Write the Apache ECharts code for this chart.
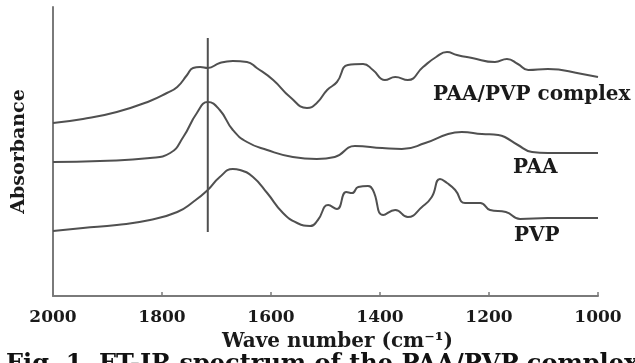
<!DOCTYPE html>
<html>
<head>
<meta charset="utf-8">
<script src="https://cdn.jsdelivr.net/npm/echarts@6/dist/echarts.min.js"></script>
<style>
  html, body { margin: 0; padding: 0; background: #fff; }
  #chart { width: 635px; height: 363px; }
</style>
</head>
<body>
<div id="chart"></div>
<script>
// wave number ticks (cm-1), axis runs 2000 -> 1000
var waveTicks = [2000, 1800, 1600, 1400, 1200, 1000];

// spectra, [wave number, absorbance (arbitrary, offset)]
var complexSpectrum = [
	[2000, 1.73], [1945, 1.77], [1883, 1.84], [1822, 1.95], [1791, 2.03], [1772, 2.09],
	[1754, 2.21], [1743, 2.28], [1730, 2.29], [1716, 2.28], [1694, 2.33], [1670, 2.35],
	[1644, 2.34], [1626, 2.28], [1596, 2.16], [1565, 1.99], [1534, 1.88], [1516, 1.93],
	[1497, 2.06], [1479, 2.14], [1459, 2.31], [1431, 2.32], [1413, 2.26], [1391, 2.16],
	[1372, 2.19], [1349, 2.16], [1321, 2.29], [1297, 2.39], [1277, 2.44], [1259, 2.41],
	[1231, 2.38], [1189, 2.34], [1167, 2.37], [1147, 2.32], [1128, 2.26], [1092, 2.27],
	[1029, 2.22], [1000, 2.19]
];

var paaSpectrum = [
	[2000, 1.34], [1914, 1.35], [1822, 1.38], [1785, 1.43], [1761, 1.59], [1736, 1.83],
	[1716, 1.94], [1694, 1.86], [1670, 1.66], [1644, 1.54], [1607, 1.46], [1560, 1.39],
	[1516, 1.37], [1483, 1.39], [1446, 1.50], [1396, 1.48], [1360, 1.47], [1317, 1.53],
	[1275, 1.62], [1250, 1.64], [1213, 1.62], [1183, 1.61], [1171, 1.59], [1147, 1.51],
	[1121, 1.44], [1092, 1.43], [1000, 1.43]
];

var pvpSpectrum = [
	[2000, 0.65], [1945, 0.68], [1883, 0.71], [1822, 0.76], [1772, 0.84], [1743, 0.94],
	[1716, 1.06], [1694, 1.19], [1670, 1.27], [1657, 1.26], [1633, 1.19], [1607, 1.03],
	[1578, 0.83], [1552, 0.73], [1528, 0.70], [1514, 0.76], [1495, 0.91], [1479, 0.87],
	[1462, 1.04], [1451, 1.03], [1440, 1.09], [1422, 1.10], [1413, 1.06], [1394, 0.81],
	[1372, 0.86], [1349, 0.79], [1323, 0.89], [1305, 0.99], [1290, 1.17], [1277, 1.13],
	[1262, 1.06], [1244, 0.93], [1216, 0.93], [1198, 0.86], [1169, 0.84], [1143, 0.77],
	[1092, 0.78], [1000, 0.78]
];

// reference line at the C=O band
var markerLine = [[1716, 2.58], [1716, 0.64]];

var seriesLabels = ["PAA/PVP complex", "PAA", "PVP"];

var chart = echarts.init(document.getElementById("chart"));

var lineColor = "#505050";
var axisColor = "#7a7a7a";
var serif = "'DejaVu Serif', 'Liberation Serif', serif";

function spectrumSeries(name, data)
{
	return {
		name: name,
		type: "line",
		data: data,
		smooth: 0.5,
		symbol: "none",
		silent: true,
		lineStyle: { color: lineColor, width: 2 }
	};
}

var option = {
	backgroundColor: "#fff",
	animation: false,
	grid: { left: 53, right: 37, top: 7, bottom: 67 },
	xAxis: {
		type: "value",
		min: 1000,
		max: 2000,
		interval: 200,
		inverse: true,
		axisLine: { show: true, lineStyle: { color: axisColor, width: 2 } },
		axisTick: { show: true, inside: true, length: 4, lineStyle: { color: axisColor, width: 1.5 } },
		splitLine: { show: false },
		axisLabel: {
			margin: 13,
			color: "#1a1a1a",
			fontFamily: serif,
			fontWeight: "bold",
			fontSize: 17,
			formatter: function(v) { return String(v); }
		}
	},
	yAxis: {
		type: "value",
		min: 0,
		max: 2.89,
		axisLine: { show: true, lineStyle: { color: axisColor, width: 2 } },
		axisTick: { show: false },
		axisLabel: { show: false },
		splitLine: { show: false },
		name: "Absorbance",
		nameLocation: "middle",
		nameRotate: 90,
		nameGap: 24,
		nameTextStyle: {
			color: "#1a1a1a",
			fontFamily: serif,
			fontWeight: "bold",
			fontSize: 19
		}
	},
	series: [
		spectrumSeries(seriesLabels[0], complexSpectrum),
		spectrumSeries(seriesLabels[1], paaSpectrum),
		spectrumSeries(seriesLabels[2], pvpSpectrum),
		{
			type: "line",
			data: markerLine,
			symbol: "none",
			silent: true,
			lineStyle: { color: lineColor, width: 2 }
		}
	],
	graphic: [
		{
			type: "text", left: 433, top: 85,
			style: { text: seriesLabels[0], fill: "#1a1a1a", font: "bold 20px " + serif }
		},
		{
			type: "text", left: 513, top: 158,
			style: { text: seriesLabels[1], fill: "#1a1a1a", font: "bold 20px " + serif }
		},
		{
			type: "text", left: 514, top: 226,
			style: { text: seriesLabels[2], fill: "#1a1a1a", font: "bold 20px " + serif }
		},
		{
			type: "text", left: 222, top: 332,
			style: { text: "Wave number (cm\u207B\u00B9)", fill: "#1a1a1a", font: "bold 20px " + serif }
		},
		{
			type: "text", left: 6, top: 353,
			style: { text: "Fig. 1. FT-IR spectrum of the PAA/PVP complex", fill: "#111", font: "bold 24px " + serif }
		}
	]
};

chart.setOption(option);
</script>
</body>
</html>
